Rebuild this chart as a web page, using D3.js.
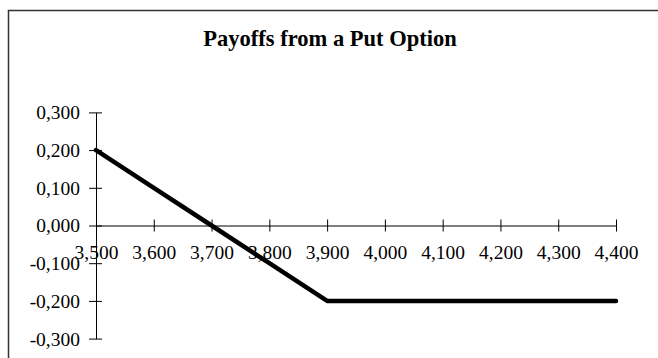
<!DOCTYPE html>
<html>
<head>
<meta charset="utf-8">
<script src="https://cdn.jsdelivr.net/npm/d3@7"></script>
<style>
  html, body { margin: 0; padding: 0; background: #fff; }
  svg { display: block; }
  text { font-family: "Liberation Serif", "Times New Roman", serif; fill: #000; }
</style>
</head>
<body>
<svg id="chart" width="658" height="358"></svg>
<script>
const title = "Payoffs from a Put Option";
const prices = [3.5, 3.6, 3.7, 3.8, 3.9, 4.0, 4.1, 4.2, 4.3, 4.4];
const payoffs = [0.2, 0.1, 0.0, -0.1, -0.2, -0.2, -0.2, -0.2, -0.2, -0.2];
const xTicks = [3.5, 3.6, 3.7, 3.8, 3.9, 4.0, 4.1, 4.2, 4.3, 4.4];
const yTicks = [-0.3, -0.2, -0.1, 0.0, 0.1, 0.2, 0.3];

const locale = d3.formatLocale({decimal: ",", thousands: ".", grouping: [3], currency: ["", ""], minus: "-"});
const fmt = locale.format(".3f");

const svg = d3.select("#chart");
const W = 658, H = 358;

// outer frame (left and top edges visible)
svg.append("path")
  .attr("d", `M8.5,${H} L8.5,10.5 L${W},10.5`)
  .attr("fill", "none").attr("stroke", "#333").attr("stroke-width", 1.5);

svg.append("text")
  .attr("x", 330).attr("y", 46)
  .attr("text-anchor", "middle")
  .attr("font-size", "22.5px").attr("font-weight", "bold")
  .text(title);

const x = d3.scaleLinear().domain([3.5, 4.4]).range([96, 616]);
const y = d3.scaleLinear().domain([-0.3, 0.3]).range([338.6, 112.4]);

// x axis at y=0
const xAxis = d3.axisBottom(x).tickValues(xTicks).tickFormat(fmt).tickSize(0).tickPadding(0);
const gx = svg.append("g").attr("transform", `translate(0,${y(0)})`).call(xAxis);
gx.select(".domain").attr("stroke", "#000").attr("stroke-width", 1);
gx.selectAll(".tick line").attr("y1", -6).attr("y2", 6).attr("stroke", "#000");
gx.selectAll(".tick text").attr("font-size", "19.5px").attr("font-family", "Liberation Serif")
  .attr("y", 33.5).attr("dy", 0);

// y axis at x=3.5
const yAxis = d3.axisLeft(y).tickValues(yTicks).tickFormat(fmt).tickSize(0).tickPadding(16);
const gy = svg.append("g").attr("transform", `translate(${x(3.5)},0)`).call(yAxis);
gy.select(".domain").attr("stroke", "#000").attr("stroke-width", 1);
gy.selectAll(".tick line").attr("x1", -7).attr("x2", 6).attr("stroke", "#000");
gy.selectAll(".tick text").attr("font-size", "19.5px").attr("font-family", "Liberation Serif")
  .attr("dy", "0.33em");

// payoff line
const line = d3.line().x((d, i) => x(prices[i])).y(d => y(d));
svg.append("path")
  .datum(payoffs)
  .attr("d", line)
  .attr("fill", "none")
  .attr("stroke", "#000")
  .attr("stroke-width", 4.5)
  .attr("stroke-linejoin", "round")
  .attr("stroke-linecap", "round");
</script>
</body>
</html>
